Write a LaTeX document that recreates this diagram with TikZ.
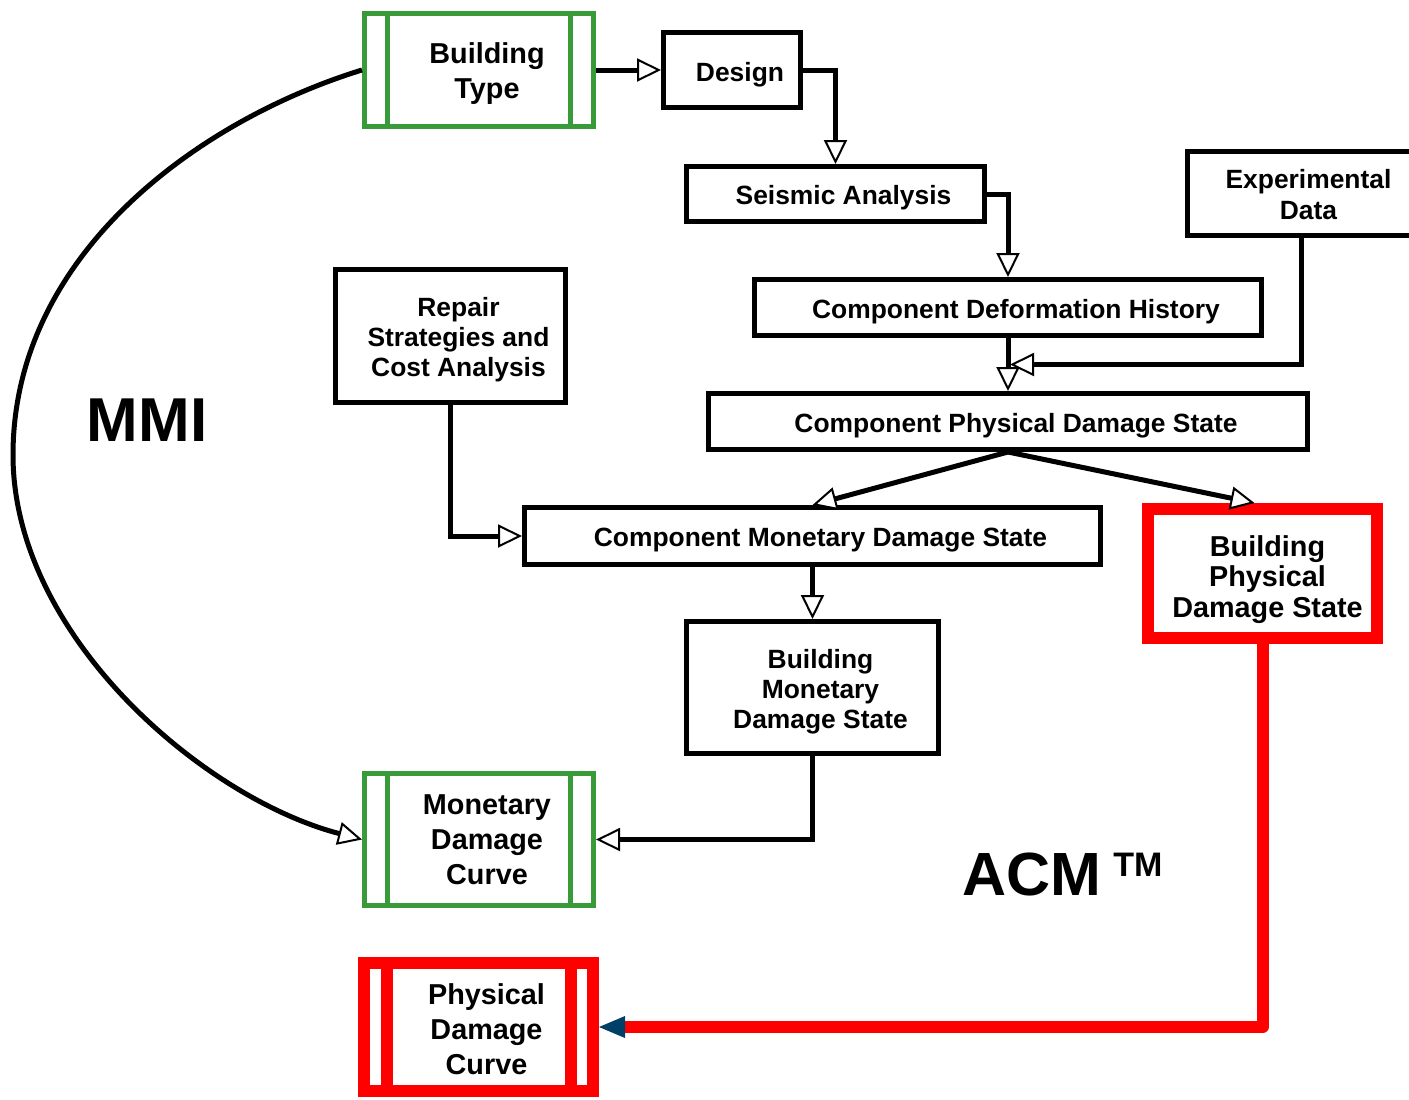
\documentclass[tikz,border=0pt]{standalone}
\usepackage{fontspec}
\setmainfont{Liberation Sans}
\usetikzlibrary{arrows.meta}
\definecolor{boxgreen}{RGB}{56,154,56}
\definecolor{boxred}{RGB}{255,0,0}
\definecolor{tipblue}{RGB}{0,63,102}

\begin{document}
\begin{tikzpicture}[
 x=0.5pt, y=-0.5pt,
 line width=2.5pt,
 >={Triangle[fill=white, length=12pt, width=11.5pt, line width=1pt]},
 align=center,
 blackbox/.style={draw=black,rectangle,inner sep=0pt},
 greenbox/.style={draw=boxgreen,rectangle,inner sep=0pt,minimum width=114.5pt},
 redbox/.style={draw=boxred,line width=6pt,rectangle,inner sep=0pt,minimum width=114.5pt},
 greenbar/.style={draw=boxgreen},
 redbar/.style={draw=boxred,line width=6pt},
 txt/.style={font=\bfseries\fontsize{13.2}{15}\selectfont,inner sep=0pt,xshift=4pt,yshift=-2pt},
 bigtxt/.style={font=\bfseries\fontsize{14.4}{17.5}\selectfont,inner sep=0pt,xshift=4pt},
 redline/.style={draw=boxred,line width=6pt,line join=round,-{Triangle[length=13pt,width=11pt,line width=0pt,color=tipblue]}}
]
\useasboundingbox (0,0) rectangle (1409,1099);
\clip (0,0) rectangle (1409,1099);

% boxes
\node (btype) [greenbox, minimum height=56.5pt] at (479,70) {};
\node (design) [blackbox, minimum width=68.5pt, minimum height=37.5pt] at (732,70) {};
\node (seismic) [blackbox, minimum width=149pt, minimum height=27.5pt] at (835.5,194) {};
\node (expdata) [blackbox, minimum width=117pt, minimum height=42pt] at (1304.5,193.5) {};
\node (cdh) [blackbox, minimum width=253.5pt, minimum height=28pt] at (1008,307.5) {};
\node (cpds) [blackbox, minimum width=299.5pt, minimum height=28pt] at (1008,421.5) {};
\node (repair) [blackbox, minimum width=115pt, minimum height=66.5pt] at (450.5,336) {};
\node (cmds) [blackbox, minimum width=288pt, minimum height=28.5pt] at (812.5,536) {};
\node (bpds) [redbox, minimum height=64.5pt] at (1262.5,573.5) {};
\node (bmds) [blackbox, minimum width=126pt, minimum height=66pt] at (812.5,687.5) {};
\node (mdc) [greenbox, minimum height=66pt] at (479,839.5) {};
\node (pdc) [redbox, minimum height=64pt] at (478.5,1027) {};

\foreach \n in {btype,mdc}
  \draw [greenbar] ([xshift=12.75pt]\n.north west) -- ([xshift=12.75pt]\n.south west)
                   ([xshift=-12.75pt]\n.north east) -- ([xshift=-12.75pt]\n.south east);
\draw [redbar] ([xshift=14.25pt]pdc.north west) -- ([xshift=14.25pt]pdc.south west)
               ([xshift=-14.25pt]pdc.north east) -- ([xshift=-14.25pt]pdc.south east);

% texts
\node (btype-t) [bigtxt, yshift=-2pt] at (btype) {Building\\Type};
\node (design-t) [txt, yshift=-0.5pt] at (design) {Design};
\node (seismic-t) [txt] at (seismic) {Seismic Analysis};
\node (expdata-t) [txt, xshift=-2pt, yshift=1.5pt, font=\bfseries\fontsize{13.2}{15.5}\selectfont] at (expdata) {Experimental\\Data};
\node (cdh-t) [txt] at (cdh) {Component Deformation History};
\node (cpds-t) [txt] at (cpds) {Component Physical Damage State};
\node (repair-t) [txt] at (repair) {Repair\\Strategies and\\Cost Analysis};
\node (cmds-t) [txt] at (cmds) {Component Monetary Damage State};
\node (bpds-t) [txt, xshift=-1.5pt, yshift=-1pt, font=\bfseries\fontsize{14.4}{15.3}\selectfont] at (bpds) {Building\\Physical\\Damage State};
\node (bmds-t) [txt] at (bmds) {Building\\Monetary\\Damage State};
\node (mdc-t) [bigtxt] at (mdc) {Monetary\\Damage\\Curve};
\node (pdc-t) [bigtxt, yshift=-1pt] at (pdc) {Physical\\Damage\\Curve};

\node (mmi) [font=\bfseries\fontsize{31}{31}\selectfont, inner sep=0pt] at (147,420.5) {MMI};
\node (acm) [font=\bfseries\fontsize{30.5}{30.5}\selectfont, inner sep=0pt] at (1032,874.5) {ACM};
\node (tm) [font=\bfseries\fontsize{17}{17}\selectfont, inner sep=0pt, anchor=north west] at ([xshift=3.5pt]acm.north east) {TM};

% connectors
\coordinate (merge) at (1010,364.5);
\coordinate (mmi-arc) at (13,455);
\draw[->] (btype.east) -- (design.west);
\draw[->] (design.east) -| (seismic.north);
\draw[->] (seismic.east) -| (cdh.north);
\draw[->] (cdh.south) -- (cpds.north);
\draw[->] ([xshift=-1.5pt]expdata.south) |- (merge);
\draw[->] (cpds.south) -- (cmds.north);
\draw[->] (cpds.south) -- ([xshift=-4pt]bpds.north);
\draw[->] (repair.south) |- (cmds.west);
\draw[->] (cmds.south) -- (bmds.north);
\draw[->] (bmds.south) |- (mdc.east);
\draw[redline] (bpds.south) |- (pdc.east);
\draw[->] (btype.west) .. controls (198,120.5) and (13,255) .. (mmi-arc)
  .. controls (13,635) and (203,798) .. (mdc.west);
\end{tikzpicture}
\end{document}
